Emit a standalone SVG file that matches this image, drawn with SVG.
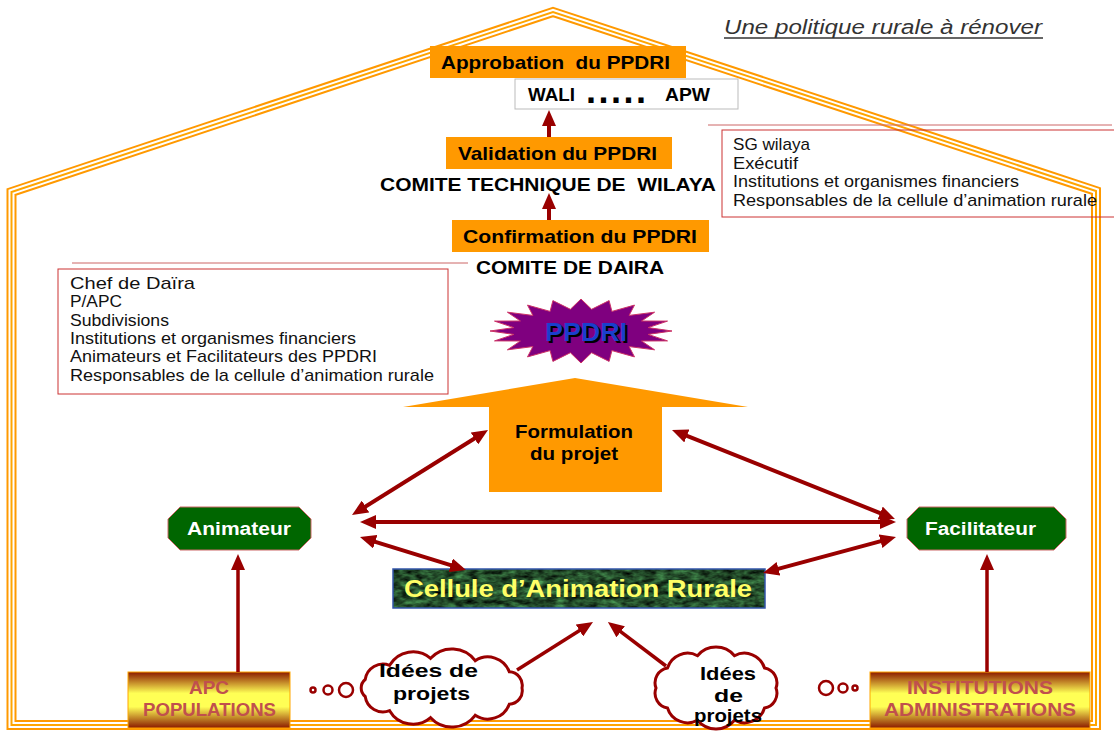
<svg xmlns="http://www.w3.org/2000/svg" width="1114" height="731" viewBox="0 0 1114 731">
<style>
text{font-family:"Liberation Sans",Arial,sans-serif}
.b{font-weight:bold;font-size:19px;fill:#000}
.n{font-size:17px;fill:#111}
.box{fill:#FF9900}
.oct{fill:#006600;stroke:#CC6666;stroke-width:1}
.ow{font-weight:bold;font-size:18px;fill:#fff}
.ar{fill:none;stroke:#990000;stroke-width:4}
.ar3{fill:none;stroke:#990000;stroke-width:3.5}
.cl{fill:#fff;stroke:#990000;stroke-width:3}
.bub{fill:#fff;stroke:#990000;stroke-width:2.5}
.rt{font-weight:bold;font-size:19px;fill:#C0504D}
.rbox{fill:none;stroke:#CC3333;stroke-width:1}
.rline{stroke:#CC6666;stroke-width:1}
</style>
<defs>
<marker id="ah" markerUnits="userSpaceOnUse" markerWidth="16" markerHeight="14" viewBox="0 0 16 14" refX="10" refY="7" orient="auto-start-reverse">
<path d="M0,0 L16,7 L0,14 Z" fill="#990000"/>
</marker>
<linearGradient id="gy" x1="0" y1="0" x2="0" y2="1">
<stop offset="0" stop-color="#8B1A00"/>
<stop offset="0.38" stop-color="#FFFF55"/>
<stop offset="0.62" stop-color="#FFFF55"/>
<stop offset="1" stop-color="#8B1A00"/>
</linearGradient>
<filter id="tex" x="0" y="0" width="1" height="1" color-interpolation-filters="sRGB">
<feTurbulence type="fractalNoise" baseFrequency="0.09 0.2" numOctaves="3" seed="4"/>
<feColorMatrix type="matrix" values="0.4 0 0 0 -0.06  0.8 0 0 0 -0.1  0.45 0 0 0 -0.06  0 0 0 0 1"/>
</filter>
</defs>

<g id="house">
<path d="M11.5 725 L11.5 192 L553 12 L1096 191 L1096 725 Z" fill="none" stroke="#FF9900" stroke-width="10" stroke-linejoin="miter"/>
<path d="M11.5 725 L11.5 192 L553 12 L1096 191 L1096 725 Z" fill="none" stroke="#fff" stroke-width="6"/>
<path d="M11.5 725 L11.5 192 L553 12 L1096 191 L1096 725 Z" fill="none" stroke="#FFA500" stroke-width="2"/>
</g>

<g id="title">
<text x="724" y="34" font-size="20" font-style="italic" fill="#333" textLength="318" lengthAdjust="spacingAndGlyphs">Une politique rurale à rénover</text>
<line x1="724" y1="38" x2="1043" y2="38" stroke="#333" stroke-width="1.3"/>
</g>

<g id="approbation">
<rect class="box" x="430" y="46" width="256" height="32"/>
<text class="b" x="441" y="69" textLength="229" lengthAdjust="spacingAndGlyphs" xml:space="preserve">Approbation  du PPDRI</text>
</g>
<g id="wali">
<rect x="515" y="79" width="223" height="30" fill="#fff" stroke="#BBBBBB" stroke-width="1"/>
<text class="b" x="528" y="101" textLength="47" lengthAdjust="spacingAndGlyphs">WALI</text>
<text x="586" y="103" font-size="36" font-weight="bold" letter-spacing="2.5">.....</text>
<text class="b" x="665" y="101" textLength="45" lengthAdjust="spacingAndGlyphs">APW</text>
</g>
<g id="validation">
<rect class="box" x="446" y="137" width="226" height="32"/>
<text class="b" x="458" y="160" textLength="199" lengthAdjust="spacingAndGlyphs">Validation du PPDRI</text>
</g>
<g id="comite-wilaya">
<text class="b" x="380" y="191" textLength="336" lengthAdjust="spacingAndGlyphs" xml:space="preserve">COMITE TECHNIQUE DE  WILAYA</text>
</g>
<g id="confirmation">
<rect class="box" x="452" y="220" width="257" height="32"/>
<text class="b" x="463" y="243" textLength="234" lengthAdjust="spacingAndGlyphs">Confirmation du PPDRI</text>
</g>
<g id="comite-daira">
<text class="b" x="476" y="274" textLength="188" lengthAdjust="spacingAndGlyphs">COMITE DE DAIRA</text>
</g>

<g id="wilaya-members">
<line class="rline" x1="708" y1="125" x2="1112" y2="125"/>
<rect class="rbox" x="722" y="130" width="400" height="87"/>
<text class="n" x="733" y="150" textLength="77" lengthAdjust="spacingAndGlyphs">SG wilaya</text>
<text class="n" x="733" y="169" textLength="65" lengthAdjust="spacingAndGlyphs">Exécutif</text>
<text class="n" x="733" y="187" textLength="286" lengthAdjust="spacingAndGlyphs">Institutions et organismes financiers</text>
<text class="n" x="733" y="206" textLength="364" lengthAdjust="spacingAndGlyphs">Responsables de la cellule d’animation rurale</text>
</g>

<g id="daira-members">
<line class="rline" x1="72" y1="263" x2="468" y2="263"/>
<rect class="rbox" x="58" y="269" width="390" height="125"/>
<text class="n" x="70" y="289" textLength="125" lengthAdjust="spacingAndGlyphs">Chef de Daïra</text>
<text class="n" x="70" y="307" textLength="52" lengthAdjust="spacingAndGlyphs">P/APC</text>
<text class="n" x="70" y="326" textLength="99" lengthAdjust="spacingAndGlyphs">Subdivisions</text>
<text class="n" x="70" y="344" textLength="286" lengthAdjust="spacingAndGlyphs">Institutions et organismes financiers</text>
<text class="n" x="70" y="362" textLength="307" lengthAdjust="spacingAndGlyphs">Animateurs et Facilitateurs des PPDRI</text>
<text class="n" x="70" y="381" textLength="364" lengthAdjust="spacingAndGlyphs">Responsables de la cellule d’animation rurale</text>
</g>

<g id="ppdri">
<polygon points="672,331 648.2,334.4 667.5,340.9 641.6,341 654.6,349.8 629.1,346.6 634.5,356.9 611.9,350.6 609.1,361.4 591.6,352.7 581,363 570.4,352.7 552.9,361.4 550.1,350.6 527.5,356.9 532.9,346.6 507.4,349.8 520.4,341 494.5,340.9 513.8,334.4 490,331 513.8,327.6 494.5,321.1 520.4,321 507.4,312.2 532.9,315.4 527.5,305.1 550.1,311.4 552.9,300.6 570.4,309.3 581,299 591.6,309.3 609.1,300.6 611.9,311.4 634.5,305.1 629.1,315.4 654.6,312.2 641.6,321 667.5,321.1 648.2,327.6" fill="#7F007F" stroke="#CC3366" stroke-width="1"/>
<text x="588" y="343" text-anchor="middle" font-size="26" font-weight="bold" fill="#000" textLength="82" lengthAdjust="spacingAndGlyphs">PPDRI</text>
<text x="586" y="341" text-anchor="middle" font-size="26" font-weight="bold" fill="#1A3FCC" textLength="82" lengthAdjust="spacingAndGlyphs">PPDRI</text>
</g>

<g id="formulation">
<polygon points="575,378 748,407 662,407 662,492 489,492 489,407 403,407" fill="#FF9900"/>
<text class="b" x="515" y="438" textLength="118" lengthAdjust="spacingAndGlyphs">Formulation</text>
<text class="b" x="530" y="460" textLength="88" lengthAdjust="spacingAndGlyphs">du projet</text>
</g>

<g id="animateur">
<polygon class="oct" points="180,507 299,507 311,519 311,538 299,550 180,550 168,538 168,519"/>
<text class="ow" x="187" y="535" textLength="104" lengthAdjust="spacingAndGlyphs">Animateur</text>
</g>
<g id="facilitateur">
<polygon class="oct" points="919,507 1054,507 1066,519 1066,538 1054,550 919,550 907,538 907,519"/>
<text class="ow" x="925" y="535" textLength="111" lengthAdjust="spacingAndGlyphs">Facilitateur</text>
</g>

<g id="cellule">
<rect x="393" y="569" width="372" height="39" fill="#1E4A2A"/>
<rect x="393" y="569" width="372" height="39" filter="url(#tex)"/>
<rect x="393" y="569" width="372" height="39" fill="none" stroke="#3355AA" stroke-width="1.5"/>
<text x="404" y="597" font-size="24" font-weight="bold" fill="#FFFF66" textLength="348" lengthAdjust="spacingAndGlyphs">Cellule d’Animation Rurale</text>
</g>

<g id="apc">
<rect x="128" y="672" width="162" height="56" fill="url(#gy)" stroke="#FFA500" stroke-width="1"/>
<text class="rt" x="209" y="694" text-anchor="middle">APC</text>
<text class="rt" x="143" y="716" textLength="133" lengthAdjust="spacingAndGlyphs">POPULATIONS</text>
</g>
<g id="institutions">
<rect x="870" y="672" width="220" height="56" fill="url(#gy)" stroke="#FFA500" stroke-width="1"/>
<text class="rt" x="907" y="694" textLength="146" lengthAdjust="spacingAndGlyphs">INSTITUTIONS</text>
<text class="rt" x="884" y="716" textLength="192" lengthAdjust="spacingAndGlyphs">ADMINISTRATIONS</text>
</g>

<g id="idees1">
<path class="cl" d="M522,688 A13.5,13.5 0 0 1 509.3,704.2 A23,23 0 0 1 475.2,715.3 A29,29 0 0 1 430.6,717.7 A27,27 0 0 1 389.6,710.7 A18,18 0 0 1 365.2,696.5 A11,11 0 0 1 365.2,679.5 A18,18 0 0 1 389.6,665.3 A27,27 0 0 1 430.6,658.3 A29,29 0 0 1 475.2,660.7 A23,23 0 0 1 509.3,671.8 A13.5,13.5 0 0 1 522,688 Z"/>
<circle class="bub" cx="313" cy="690" r="2.5"/>
<circle class="bub" cx="328" cy="690" r="4.5"/>
<circle class="bub" cx="346" cy="690" r="7"/>
<text class="b" x="379" y="677" textLength="99" lengthAdjust="spacingAndGlyphs">Idées de</text>
<text class="b" x="393" y="700" textLength="77" lengthAdjust="spacingAndGlyphs">projets</text>
</g>
<g id="idees2">
<path class="cl" d="M776,688 A15,15 0 0 1 764.5,708 A21,21 0 0 1 734.5,720.3 A24,24 0 0 1 697.5,720.3 A21,21 0 0 1 667.5,708 A15,15 0 0 1 656,688 A15,15 0 0 1 667.5,668 A21,21 0 0 1 697.5,655.7 A24,24 0 0 1 734.5,655.7 A21,21 0 0 1 764.5,668 A15,15 0 0 1 776,688 Z"/>
<circle class="bub" cx="826" cy="688" r="7"/>
<circle class="bub" cx="843" cy="688" r="4.5"/>
<circle class="bub" cx="855" cy="688" r="2.5"/>
<text class="b" x="700" y="680" textLength="56" lengthAdjust="spacingAndGlyphs">Idées</text>
<text class="b" x="714" y="702" textLength="29" lengthAdjust="spacingAndGlyphs">de</text>
<text class="b" x="694" y="722" textLength="68" lengthAdjust="spacingAndGlyphs">projets</text>
</g>

<g id="connectors">
<line class="ar" x1="549" y1="137" x2="549" y2="116" marker-end="url(#ah)"/>
<line class="ar" x1="549" y1="220" x2="549" y2="199" marker-end="url(#ah)"/>
<line class="ar" x1="357.1" y1="511.8" x2="482.9" y2="433.2" marker-start="url(#ah)" marker-end="url(#ah)"/>
<line class="ar" x1="677.6" y1="432.2" x2="889.4" y2="516.8" marker-start="url(#ah)" marker-end="url(#ah)"/>
<line class="ar" x1="366" y1="522" x2="890" y2="522" marker-start="url(#ah)" marker-end="url(#ah)"/>
<line class="ar" x1="365.7" y1="538.8" x2="460.3" y2="568.2" marker-start="url(#ah)" marker-end="url(#ah)"/>
<line class="ar" x1="890.2" y1="538.6" x2="768.8" y2="571.4" marker-start="url(#ah)" marker-end="url(#ah)"/>
<line class="ar3" x1="517" y1="670" x2="587.9" y2="625.2" marker-end="url(#ah)"/>
<line class="ar3" x1="666" y1="666" x2="612.7" y2="625.7" marker-end="url(#ah)"/>
<line class="ar3" x1="238" y1="672" x2="238" y2="560" marker-end="url(#ah)"/>
<line class="ar3" x1="987" y1="672" x2="987" y2="560" marker-end="url(#ah)"/>
</g>
</svg>
